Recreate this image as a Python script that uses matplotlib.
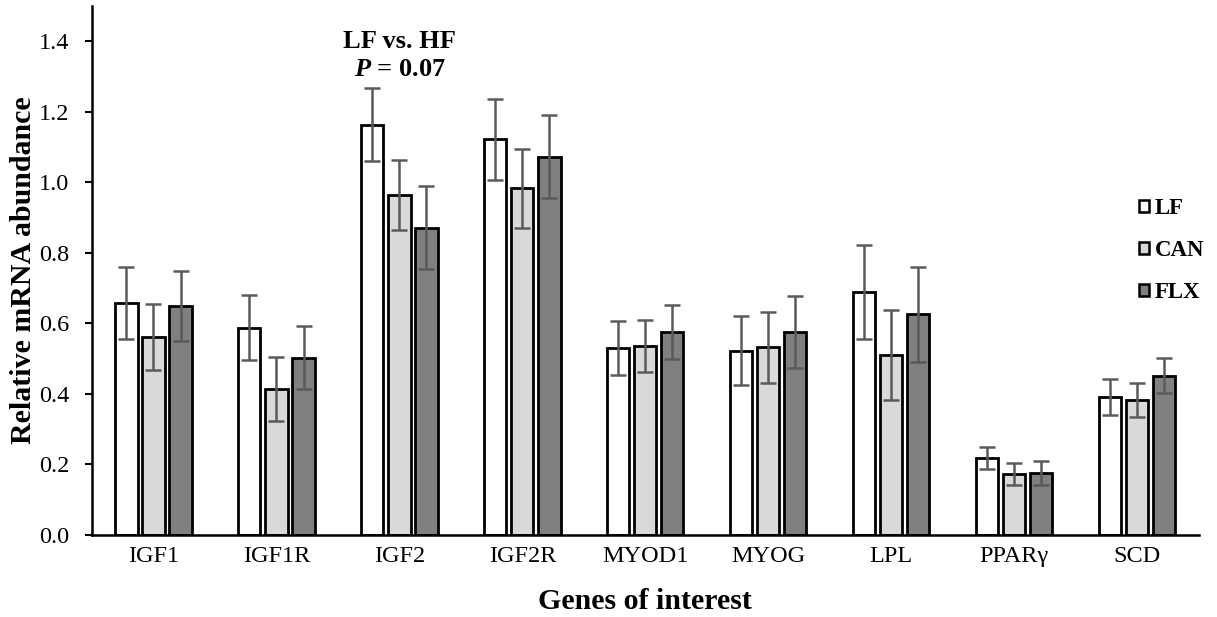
import numpy as np
import matplotlib
matplotlib.use("Agg")
import matplotlib.pyplot as plt
from matplotlib.patches import Patch

genes = ["IGF1", "IGF1R", "IGF2", "IGF2R", "MYOD1", "MYOG", "LPL", "PPARγ", "SCD"]
groups = ["LF", "CAN", "FLX"]

lf_vals = [0.658, 0.588, 1.164, 1.122, 0.530, 0.523, 0.690, 0.218, 0.391]
can_vals = [0.562, 0.415, 0.964, 0.983, 0.536, 0.532, 0.511, 0.172, 0.383]
flx_vals = [0.650, 0.503, 0.872, 1.073, 0.576, 0.576, 0.626, 0.175, 0.452]

lf_err = [0.101, 0.093, 0.104, 0.116, 0.077, 0.097, 0.133, 0.031, 0.051]
can_err = [0.093, 0.091, 0.099, 0.111, 0.073, 0.101, 0.128, 0.031, 0.048]
flx_err = [0.099, 0.090, 0.118, 0.117, 0.077, 0.103, 0.134, 0.034, 0.050]

colors = ["#ffffff", "#d9d9d9", "#808080"]

plt.rcParams['font.family'] = ['Liberation Serif', 'DejaVu Serif']
plt.rcParams['mathtext.fontset'] = 'custom'
plt.rcParams['mathtext.it'] = 'Liberation Serif:italic:bold'
plt.rcParams['mathtext.rm'] = 'Liberation Serif:bold'
plt.rcParams['mathtext.bf'] = 'Liberation Serif:bold'

fig = plt.figure(figsize=(12.17, 6.17), dpi=100)
ax = fig.add_axes([0.0756, 0.133, 0.9094, 0.857])

x = np.arange(len(genes))
offset = 0.22
width = 0.18
series = [(lf_vals, lf_err), (can_vals, can_err), (flx_vals, flx_err)]
handles = []
for i, ((vals, errs), c, name) in enumerate(zip(series, colors, groups)):
    ax.bar(x + (i - 1) * offset, vals, width, color=c, edgecolor="black",
           linewidth=2.0, zorder=2)
    ax.errorbar(x + (i - 1) * offset, vals, yerr=errs, fmt="none",
                ecolor="#5a5a5a", elinewidth=1.8, capsize=6, capthick=1.8, zorder=3)
    handles.append(Patch(facecolor=c, edgecolor="black", linewidth=1.8, label=name))

ax.set_xlim(-0.5, len(genes) - 0.5)
ax.set_ylim(0, 1.5)
ax.set_yticks(np.arange(0, 1.41, 0.2))
ax.set_yticklabels([f"{v:.1f}" for v in np.arange(0, 1.41, 0.2)])
ax.set_xticks(x)
ax.set_xticklabels(genes)
ax.tick_params(axis="x", length=0, labelsize=17.5, pad=8)
ax.tick_params(axis="y", length=5, width=1.5, labelsize=17.5, direction="out", pad=11.5)
for s in ["top", "right"]:
    ax.spines[s].set_visible(False)
for s in ["left", "bottom"]:
    ax.spines[s].set_linewidth(1.8)

ax.set_ylabel("Relative mRNA abundance", fontsize=21.5, fontweight="bold", labelpad=1)
ax.set_xlabel("Genes of interest", fontsize=21.5, fontweight="bold", labelpad=15)

ax.text(2, 1.40, "LF vs. HF", ha="center", va="center", fontsize=19, fontweight="bold")
ax.text(2, 1.32, r"$P$ = 0.07", ha="center", va="center", fontsize=19,
        fontweight="bold")

leg = ax.legend(handles=handles, loc="upper left", bbox_to_anchor=(0.946, 0.637),
                frameon=False, handlelength=0.45, handleheight=0.45, handletextpad=0.25,
                labelspacing=0.92, borderaxespad=0, borderpad=0,
                prop={"size": 16.5, "weight": "bold"})

fig.savefig("out.png", dpi=100)
